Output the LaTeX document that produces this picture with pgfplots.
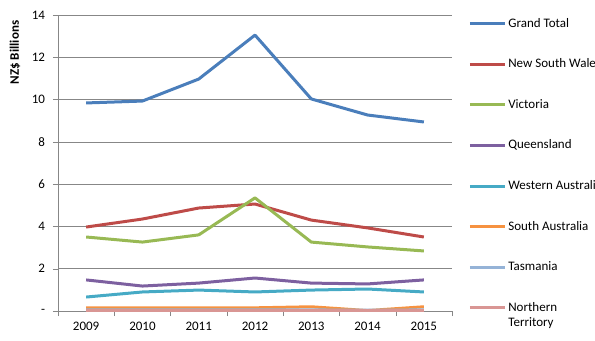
\documentclass[border=0pt]{standalone}
\usepackage{pgfplots}
\pgfplotsset{compat=1.18}
\usepackage{fontspec}
\setmainfont{Carlito}
\definecolor{cGT}{HTML}{4A7EBB}
\definecolor{cNSW}{HTML}{BE4B48}
\definecolor{cVIC}{HTML}{98B954}
\definecolor{cQLD}{HTML}{7D60A0}
\definecolor{cWA}{HTML}{46AAC5}
\definecolor{cSA}{HTML}{F69240}
\definecolor{cTAS}{HTML}{95B3D7}
\definecolor{cNT}{HTML}{D99694}
\definecolor{gridc}{HTML}{878787}
\begin{document}
\begin{tikzpicture}
\begin{axis}[
  scale only axis,
  width=394bp, height=296bp,
  at={(0,0)}, anchor=south west,
  xmin=-0.5, xmax=6.5, ymin=0, ymax=14,
  axis x line=bottom, axis y line=left,
  axis line style={-, gridc},
  xtick={0,...,6},
  xticklabels={2009,2010,2011,2012,2013,2014,2015},
  major x tick style={draw=none},
  minor xtick={-0.5,0.5,...,6.5},
  minor x tick style={gridc},
  minor tick length=5bp,
  ytick={0,2,...,14},
  yticklabels={{-},2,4,6,8,10,12,14},
  y tick style={gridc},
  major tick length=5bp,
  tick align=outside,
  ymajorgrids, major grid style={gridc, line width=0.6pt},
  tick label style={font=\fontsize{13bp}{15bp}\selectfont, text=black},
  xticklabel style={yshift=-3bp},
  yticklabel style={xshift=-4.5bp},
  ylabel={\bfseries NZ\$ Billions},
  ylabel style={font=\fontsize{13bp}{15bp}\selectfont, at={(axis description cs:-0.109,0.873)}, anchor=center},
  every axis plot/.append style={line width=3bp, line join=round},
  legend style={at={(axis description cs:1.041,0.99)}, anchor=north west, draw=none, fill=none,
    inner sep=0pt, row sep=29.6bp, column sep=2bp,
    font=\fontsize{13bp}{16bp}\selectfont,
    nodes={inner sep=0pt, text height=9bp, text depth=2bp}},
  legend cell align=left,
  legend image code/.code={\draw[#1] (0bp,0bp) -- (35bp,0bp);},
]
\addplot[cGT] coordinates {(0,9.84) (1,9.93) (2,10.97) (3,13.05) (4,10.03) (5,9.27) (6,8.94)};
\addplot[cNSW] coordinates {(0,3.97) (1,4.35) (2,4.87) (3,5.06) (4,4.30) (5,3.93) (6,3.50)};
\addplot[cVIC] coordinates {(0,3.50) (1,3.26) (2,3.60) (3,5.35) (4,3.26) (5,3.03) (6,2.84)};
\addplot[cQLD] coordinates {(0,1.47) (1,1.18) (2,1.32) (3,1.56) (4,1.32) (5,1.28) (6,1.47)};
\addplot[cWA] coordinates {(0,0.66) (1,0.90) (2,0.99) (3,0.90) (4,0.99) (5,1.04) (6,0.90)};
\addplot[cSA] coordinates {(0,0.15) (1,0.15) (2,0.15) (3,0.15) (4,0.20) (5,0.02) (6,0.20)};
\addplot[cTAS] coordinates {(0,0.05) (1,0.05) (2,0.05) (3,0.05) (4,0.05) (5,0.04) (6,0.05)};
\addplot[cNT] coordinates {(0,0.02) (1,0.02) (2,0.02) (3,0.02) (4,0.02) (5,0.02) (6,0.02)};
\legend{Grand Total, New South Wales, Victoria, Queensland, Western Australia, South Australia, Tasmania, {\begin{tabular}[t]{@{}l@{}}Northern\\[-1bp]Territory\end{tabular}}}
\end{axis}
\pgfresetboundingbox
\path[use as bounding box] (-58bp,-30bp) rectangle (537bp,311bp);
\end{tikzpicture}
\end{document}
